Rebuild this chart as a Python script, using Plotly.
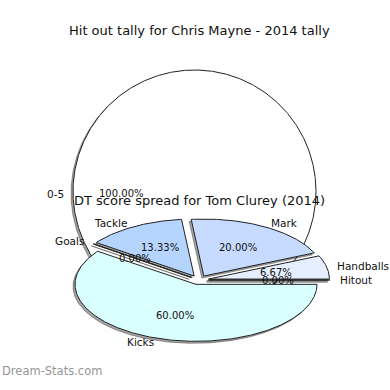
import numpy as np
import plotly.graph_objects as go

# ---------------- data ----------------
title1 = "Hit out tally for Chris Mayne - 2014 tally"
pie1_labels = ["0-5"]
pie1_values = [1]
pie1_colors = ["#ffffff"]

title2 = "DT score spread for Tom Clurey (2014)"
# listed counter-clockwise starting from the 3 o'clock direction
pie2_labels = ["Hitout", "Handballs", "Mark", "Tackle", "Goals", "Kicks"]
pie2_values = [0, 1, 3, 2, 0, 9]
pie2_colors = ["#e6efff", "#e6efff", "#c6dbff", "#b5d5ff", "#b5d5ff", "#d9ffff"]

watermark = "Dream-Stats.com"

# ---------------- style ----------------
W = H = 390
FONT = "DejaVu Sans"

fig = go.Figure()


def slice_xy(cx, cy, rx, ry, a0, a1, explode):
    mid = np.radians((a0 + a1) / 2)
    ox = explode * rx * np.cos(mid)
    oy = -explode * ry * np.sin(mid)
    t = np.radians(np.linspace(a0, a1, max(2, int(abs(a1 - a0) * 2) + 2)))
    xs = list(cx + ox + rx * np.cos(t))
    ys = list(cy + oy - ry * np.sin(t))
    if a1 - a0 < 359.999:
        xs = [cx + ox] + xs + [cx + ox]
        ys = [cy + oy] + ys + [cy + oy]
    return xs, ys


def draw_pie(labels, values, colors, cx, cy, rx, ry, explode, title, title_y,
             in_f, out_f, text_dy=0):
    total = float(sum(values))
    angle = 0.0
    spans = []
    for v in values:
        span = v / total * 360.0
        spans.append((angle, angle + span))
        angle += span
    # shadows
    for (a0, a1) in spans:
        xs, ys = slice_xy(cx - 2, cy + 2, rx, ry, a0, a1, explode)
        fig.add_trace(go.Scatter(x=xs, y=ys, mode="lines", fill="toself",
                                 fillcolor="rgba(0,0,0,0.35)",
                                 line=dict(color="rgba(0,0,0,0.35)", width=1),
                                 hoverinfo="skip", showlegend=False))
    # slices
    for lab, v, col, (a0, a1) in zip(labels, values, colors, spans):
        xs, ys = slice_xy(cx, cy, rx, ry, a0, a1, explode)
        fig.add_trace(go.Scatter(x=xs, y=ys, mode="lines", fill="toself",
                                 fillcolor=col, line=dict(color="#222222", width=1),
                                 name=lab, hoverinfo="name", showlegend=False))
    # labels
    for lab, v, (a0, a1) in zip(labels, values, spans):
        mid = np.radians((a0 + a1) / 2)
        c, s = np.cos(mid), np.sin(mid)
        pct = f"{v / total * 100:.2f}%"
        fig.add_annotation(x=cx + in_f * rx * c, y=cy - in_f * ry * s + text_dy,
                           text=pct, showarrow=False, xref="x", yref="y",
                           font=dict(family=FONT, size=10, color="#111111"))
        fig.add_annotation(x=cx + out_f * rx * c, y=cy - out_f * ry * s + text_dy,
                           text=lab, showarrow=False, xref="x", yref="y",
                           xanchor="right" if c < 0 else "left",
                           font=dict(family=FONT, size=10.5, color="#111111"))
    fig.add_annotation(x=W / 2 + 4, y=title_y, text=title, showarrow=False,
                       xref="x", yref="y",
                       font=dict(family=FONT, size=13, color="#111111"))


draw_pie(pie1_labels, pie1_values, pie1_colors, 194.5, 191.5, 121.5, 121.5,
         0.0, title1, 30, 0.6, 1.06, text_dy=2)
draw_pie(pie2_labels, pie2_values, pie2_colors, 199, 280, 121, 57,
         0.08, title2, 200, 0.65, 1.15)

fig.add_annotation(x=0, y=1 - 380 / H, text=watermark, showarrow=False,
                   xref="paper", yref="paper", xanchor="left",
                   font=dict(family=FONT, size=11.5, color="#959595"))

fig.update_layout(
    width=W, height=H, autosize=False,
    margin=dict(l=0, r=0, t=0, b=0),
    paper_bgcolor="white", plot_bgcolor="white",
    xaxis=dict(range=[0, W], visible=False, fixedrange=True),
    yaxis=dict(range=[H, 0], visible=False, fixedrange=True),
    showlegend=False,
)

fig.write_html(
    "out.html",
    config={"displayModeBar": False, "staticPlot": True},
    post_script="document.body.style.margin='0px';document.body.style.overflow='hidden';",
)
